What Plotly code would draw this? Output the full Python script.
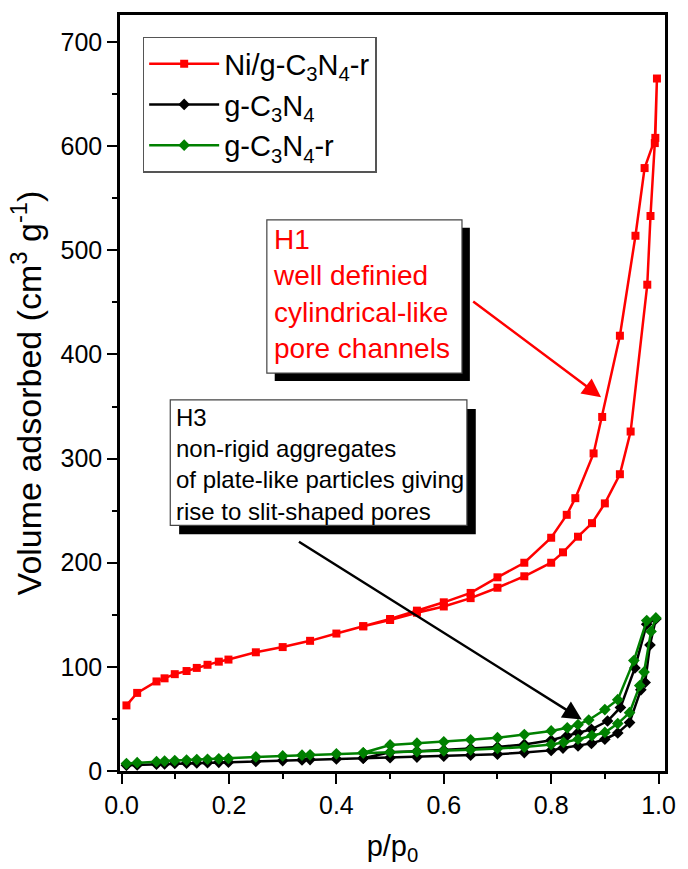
import plotly.graph_objects as go

# N2 adsorption-desorption isotherms
# Ni/g-C3N4-r
ni_ads_p = [0.009, 0.029, 0.065, 0.080, 0.099, 0.121, 0.140, 0.160, 0.181, 0.199,
            0.250, 0.300, 0.351, 0.400, 0.450, 0.500, 0.550, 0.600, 0.650, 0.700,
            0.750, 0.800, 0.822, 0.850, 0.876, 0.900, 0.928, 0.948, 0.979, 0.985,
            0.993, 0.997]
ni_ads_v = [63, 75, 86, 89, 93, 96, 99, 102, 105, 107,
            114, 119, 125, 132, 139, 145, 152, 158, 166, 176,
            187, 200, 210, 225, 238, 257, 285, 326, 467, 533,
            603, 665]
ni_des_p = [0.994, 0.974, 0.957, 0.928, 0.895, 0.879, 0.845, 0.829, 0.800, 0.750,
            0.700, 0.650, 0.600, 0.550, 0.500, 0.450]
ni_des_v = [608, 579, 514, 418, 340, 305, 262, 246, 224, 200,
            186, 171, 162, 154, 146, 139]

# g-C3N4
cn_ads_p = [0.009, 0.029, 0.065, 0.080, 0.099, 0.121, 0.140, 0.160, 0.181, 0.199,
            0.250, 0.300, 0.336, 0.351, 0.400, 0.450, 0.500, 0.550, 0.600, 0.650,
            0.700, 0.750, 0.800, 0.822, 0.850, 0.875, 0.900, 0.924, 0.946, 0.967,
            0.975, 0.984, 0.995]
cn_ads_v = [5.5, 5.8, 6.5, 6.8, 7.2, 7.5, 7.8, 8.0, 8.3, 8.5,
            9.2, 10, 10.6, 11, 11.6, 12.3, 12.8, 13.4, 14.2, 15.2,
            16.2, 17.7, 19.8, 22, 24, 26.5, 30.5, 36.5, 46.5, 78,
            85, 121, 146]
cn_des_p = [0.978, 0.956, 0.929, 0.905, 0.875, 0.850, 0.829, 0.800, 0.750, 0.700,
            0.650, 0.600, 0.550, 0.500, 0.450]
cn_des_v = [141, 99, 61, 48, 40, 36.8, 33.6, 29.5, 25.5, 23,
            21.5, 20, 19, 18, 12.3]

# g-C3N4-r
cnr_ads_p = [0.009, 0.029, 0.065, 0.080, 0.099, 0.121, 0.140, 0.160, 0.181, 0.199,
             0.250, 0.300, 0.336, 0.351, 0.400, 0.450, 0.500, 0.550, 0.600, 0.650,
             0.700, 0.750, 0.800, 0.823, 0.850, 0.876, 0.900, 0.924, 0.946, 0.965,
             0.973, 0.986, 0.995]
cnr_ads_v = [7.1, 8, 9, 9.5, 10, 10.5, 11, 11.3, 11.7, 12,
             13.5, 14.5, 15.2, 15.5, 16.5, 17.5, 18, 18.7, 19.4, 20.3,
             21.6, 23, 25.5, 27.4, 30.5, 34, 37, 45.5, 56, 82,
             95, 134, 147]
cnr_des_p = [0.978, 0.954, 0.924, 0.900, 0.870, 0.850, 0.830, 0.800, 0.750, 0.700,
             0.650, 0.600, 0.550, 0.500, 0.450]
cnr_des_v = [144.5, 106, 68.5, 59, 49, 44.5, 41.5, 38.5, 35, 32,
             30, 28, 26.7, 25, 17.5]

x_ticks = [0.0, 0.2, 0.4, 0.6, 0.8, 1.0]
x_ticklabels = ["0.0", "0.2", "0.4", "0.6", "0.8", "1.0"]
y_ticks = [0, 100, 200, 300, 400, 500, 600, 700]

series = [
    ("Ni/g-C<sub>3</sub>N<sub>4</sub>-r", ni_ads_p + ni_des_p, ni_ads_v + ni_des_v, "#FF0000", "square", 8),
    ("g-C<sub>3</sub>N<sub>4</sub>", cn_ads_p + cn_des_p, cn_ads_v + cn_des_v, "#000000", "diamond", 9),
    ("g-C<sub>3</sub>N<sub>4</sub>-r", cnr_ads_p + cnr_des_p, cnr_ads_v + cnr_des_v, "#008000", "diamond", 9),
]

W, H = 688, 869
L, R, T, B = 120, 15, 12, 97
FONT = "Liberation Sans, Arial, sans-serif"


def px(x):
    return (x - L) / (W - L - R)


def py(y):
    return (H - B - y) / (H - T - B)


fig = go.Figure()
for name, xs, ys, color, symbol, size in series:
    fig.add_trace(go.Scatter(
        x=xs, y=ys, name=name, mode="lines+markers",
        line=dict(color=color, width=2.5),
        marker=dict(symbol=symbol, size=size, color=color),
    ))

# annotation boxes with drop shadows
boxes = [
    ((269, 218, 467, 372), 8, "#FF0000", 28,
     "H1<br>well definied<br>cylindrical-like<br>pore channels"),
    ((171, 399, 472, 525), 9, "#000000", 24,
     "H3<br>non-rigid aggregates<br>of plate-like particles giving<br>rise to slit-shaped pores"),
]
for (x0, y0, x1, y1), off, color, size, text in boxes:
    fig.add_shape(type="rect", xref="paper", yref="paper",
                  x0=px(x0 + off), x1=px(x1 + off), y0=py(y0 + off), y1=py(y1 + off),
                  fillcolor="black", line=dict(width=0), layer="above")
    fig.add_shape(type="rect", xref="paper", yref="paper",
                  x0=px(x0), x1=px(x1), y0=py(y0), y1=py(y1),
                  fillcolor="white", line=dict(color="#444444", width=1.2), layer="above")
    fig.add_annotation(xref="paper", yref="paper", x=px(x0 + 4), y=py(y0 + 2),
                       xanchor="left", yanchor="top", align="left", showarrow=False,
                       text=text, font=dict(family=FONT, size=size, color=color))

# arrows pointing to the hysteresis loops
arrows = [((0.652, 452), (0.893, 359), "#FF0000"),
          ((0.3275, 221), (0.857, 49.5), "#000000")]
for (tx, ty), (hx, hy), color in arrows:
    fig.add_annotation(x=hx, y=hy, ax=tx, ay=ty, xref="x", yref="y", axref="x", ayref="y",
                       text="", showarrow=True, arrowhead=2, arrowsize=1.5,
                       arrowwidth=2.5, arrowcolor=color)

axis_common = dict(showline=True, linecolor="black", linewidth=2.5, mirror=True,
                   ticks="outside", tickwidth=2, ticklen=10, tickcolor="black",
                   showgrid=False, zeroline=False,
                   tickfont=dict(family=FONT, size=25, color="black"))

fig.update_xaxes(range=[-0.003, 1.012], tickvals=x_ticks, ticktext=x_ticklabels,
                 minor=dict(dtick=0.1, ticks="outside", ticklen=5, tickwidth=2, tickcolor="black"),
                 title=dict(text="p/p<sub>0</sub>", font=dict(family=FONT, size=29, color="black"),
                            standoff=18),
                 **axis_common)
fig.update_yaxes(range=[0, 726], tickvals=y_ticks,
                 minor=dict(dtick=50, ticks="outside", ticklen=5, tickwidth=2, tickcolor="black"),
                 title=dict(text="Volume adsorbed (cm<sup>3</sup> g<sup>-1</sup>)",
                            font=dict(family=FONT, size=34, color="black"), standoff=9),
                 **axis_common)

fig.update_layout(
    width=W, height=H, margin=dict(l=L, r=R, t=T, b=B),
    paper_bgcolor="white", plot_bgcolor="white",
    legend=dict(x=px(143), y=py(34), xanchor="left", yanchor="top",
                bgcolor="white", bordercolor="#555555", borderwidth=1.5,
                font=dict(family=FONT, size=29, color="black"), itemwidth=70),
)

fig.write_html("out.html")
